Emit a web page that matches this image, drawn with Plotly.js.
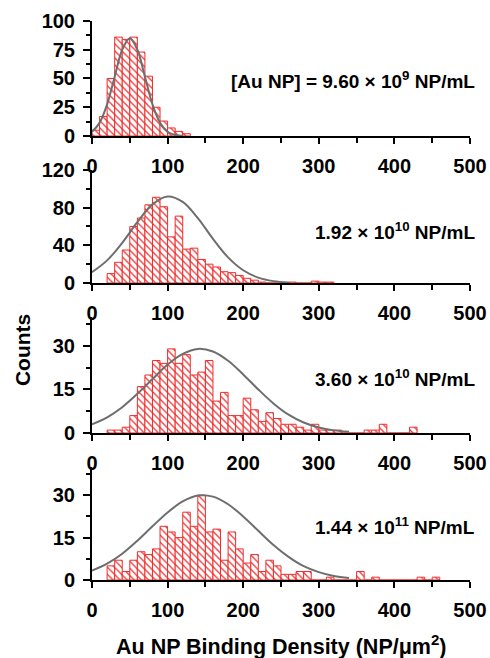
<!DOCTYPE html>
<html><head><meta charset="utf-8">
<script src="https://cdn.plot.ly/plotly-3.0.1.min.js"></script>
<style>html,body{margin:0;padding:0;background:#fff}#chart{width:490px;height:658px}</style>
</head><body><div id="chart"></div>
<script>
// ---------- data ----------
const binWidth = 10;

const binStart1 = 0;
const counts1 = [5, 17, 50, 86, 84, 86, 73, 52, 25, 13, 7, 4, 2];

const binStart2 = 20;
const counts2 = [10, 22, 35, 60, 69, 83, 91, 81, 49, 71, 36, 37, 25, 20, 17, 12, 11, 8, 5, 3, 1, 0, 0, 0, 1, 0, 0, 2, 1, 1];

const binStart3 = 20;
const counts3 = [1, 1, 2, 6, 16, 20, 25, 24, 29, 24, 27, 20, 21, 25, 11, 14, 6, 6, 12, 8, 4, 7, 5, 3, 3, 2, 1, 3, 1, 1, 1, 0, 0, 0, 1, 1, 3, 0, 0, 0, 2];

const binStart4 = 20;
const counts4 = [5, 7, 3, 7, 10, 9, 11, 19, 17, 15, 24, 19, 30, 17, 18, 7, 17, 11, 6, 9, 3, 7, 5, 2, 2, 3, 3, 0, 0, 1, 0, 0, 0, 3, 0, 1, 0, 0, 0, 0, 0, 1, 0, 1];

// Gaussian fit curves
const fitX1 = [0, 10, 20, 30, 40, 50, 60, 70, 80, 90, 100, 110, 120];
const fitY1 = [3.7, 11.4, 27.5, 51.5, 75, 85, 75, 51.5, 27.5, 11.4, 3.7, 0.9, 0.2];

const fitX2 = [0, 20, 40, 60, 80, 100, 120, 140, 160, 180, 200, 220, 240, 260];
const fitY2 = [11.5, 24, 42.7, 64.6, 83.5, 91.9, 86.2, 68.9, 46.9, 27.2, 13.5, 5.7, 2.0, 0.6];

const fitX3 = [0, 20, 40, 60, 80, 100, 120, 140, 160, 180, 200, 220, 240, 260, 280, 300, 320, 340];
const fitY3 = [3.0, 5.4, 8.9, 13.5, 18.6, 23.6, 27.3, 29.0, 28.1, 24.9, 20.2, 15.0, 10.2, 6.3, 3.6, 1.9, 0.9, 0.4];

const fitX4 = [0, 20, 40, 60, 80, 100, 120, 140, 160, 180, 200, 220, 240, 260, 280, 300, 320, 340];
const fitY4 = [3.3, 5.8, 9.3, 13.9, 19.0, 23.9, 27.8, 29.9, 29.5, 26.8, 22.5, 17.4, 12.4, 8.2, 4.9, 2.8, 1.4, 0.7];

// ticks
const xTicks = [0, 100, 200, 300, 400, 500];
const xMinor = [50, 150, 250, 350, 450];
const yTicks1 = [0, 25, 50, 75, 100];
const yMinor1 = [12.5, 37.5, 62.5, 87.5];
const yTicks2 = [0, 40, 80, 120];
const yMinor2 = [20, 60, 100];
const yTicks3 = [0, 15, 30];
const yMinor3 = [7.5, 22.5, 37.5];
const yTicks4 = [0, 15, 30];
const yMinor4 = [7.5, 22.5, 37.5];

const concLabels = [
  '[Au NP] = 9.60 × 10<sup>9</sup> NP/mL',
  '1.92 × 10<sup>10</sup> NP/mL',
  '3.60 × 10<sup>10</sup> NP/mL',
  '1.44 × 10<sup>11</sup> NP/mL'
];
const yTitle = 'Counts';
const xTitle = 'Au NP Binding Density (NP/μm<sup>2</sup>)';

// ---------- build ----------
const RED = 'rgb(240,45,45)';
const GREY = 'rgb(110,110,110)';
const FONT = 'Liberation Sans, Arial, sans-serif';

const panels = [
  {start: binStart1, counts: counts1, fx: fitX1, fy: fitY1, yt: yTicks1, ym: yMinor1, yr: [0, 100], dom: [0.7943, 1.0], ly: 0.8945},
  {start: binStart2, counts: counts2, fx: fitX2, fy: fitY2, yt: yTicks2, ym: yMinor2, yr: [0, 120], dom: [0.5313, 0.7335], ly: 0.6243},
  {start: binStart3, counts: counts3, fx: fitX3, fy: fitY3, yt: yTicks3, ym: yMinor3, yr: [0, 40], dom: [0.2630, 0.4705], ly: 0.3614},
  {start: binStart4, counts: counts4, fx: fitX4, fy: fitY4, yt: yTicks4, ym: yMinor4, yr: [0, 40], dom: [0.0, 0.2022], ly: 0.0966}
];

const traces = [];
const layout = {
  width: 490, height: 658,
  margin: {l: 92, r: 20, t: 21, b: 78},
  paper_bgcolor: 'white', plot_bgcolor: 'white',
  showlegend: false,
  bargap: 0,
  font: {family: FONT, color: 'black'},
  annotations: []
};

const tickFont = {family: FONT, size: 20, weight: 'bold', color: 'black'};

panels.forEach((p, i) => {
  const k = i + 1;
  const xa = k === 1 ? 'x' : 'x' + k;
  const ya = k === 1 ? 'y' : 'y' + k;
  const centers = p.counts.map((c, j) => p.start + j * binWidth + binWidth / 2);
  traces.push({
    type: 'bar', x: centers, y: p.counts, width: binWidth,
    xaxis: xa, yaxis: ya,
    marker: {
      color: 'white',
      line: {color: RED, width: 1},
      pattern: {shape: '\\', fgcolor: RED, bgcolor: 'white', size: 5, solidity: 0.25, fillmode: 'replace'}
    },
    hoverinfo: 'skip'
  });
  traces.push({
    type: 'scatter', mode: 'lines', x: p.fx, y: p.fy,
    xaxis: xa, yaxis: ya,
    line: {color: GREY, width: 2, shape: 'spline', smoothing: 1},
    hoverinfo: 'skip'
  });
  const xKey = k === 1 ? 'xaxis' : 'xaxis' + k;
  const yKey = k === 1 ? 'yaxis' : 'yaxis' + k;
  layout[xKey] = {
    domain: [0, 1], anchor: ya, range: [0, 500],
    tickmode: 'array', tickvals: xTicks, ticktext: xTicks.map(String),
    ticks: 'outside', ticklen: 6, tickwidth: 2, tickcolor: 'black',
    minor: {tickmode: 'array', tickvals: xMinor, ticks: 'outside', ticklen: 5, tickwidth: 2, tickcolor: 'black'},
    showline: true, linecolor: 'black', linewidth: 2,
    showgrid: false, zeroline: false,
    tickfont: tickFont, ticklabelstandoff: 5
  };
  layout[yKey] = {
    domain: p.dom, anchor: xa, range: p.yr,
    tickmode: 'array', tickvals: p.yt, ticktext: p.yt.map(String),
    ticks: 'outside', ticklen: 7, tickwidth: 2, tickcolor: 'black',
    minor: {tickmode: 'array', tickvals: p.ym, ticks: 'outside', ticklen: 4, tickwidth: 2, tickcolor: 'black'},
    showline: true, linecolor: 'black', linewidth: 2,
    showgrid: false, zeroline: false,
    tickfont: tickFont, ticklabelstandoff: 4
  };
  layout.annotations.push({
    xref: 'paper', yref: 'paper', x: 1.0185, y: p.ly,
    xanchor: 'right', yanchor: 'middle', showarrow: false,
    text: '<b>' + concLabels[i] + '</b>',
    font: {family: FONT, size: 19, color: 'black'}
  });
});

layout.annotations.push({
  xref: 'paper', yref: 'paper', x: -0.185, y: 0.4114,
  xanchor: 'center', yanchor: 'middle', showarrow: false, textangle: -90,
  text: '<b>' + yTitle + '</b>',
  font: {family: FONT, size: 21, color: 'black'}
});
layout.annotations.push({
  xref: 'paper', yref: 'paper', x: 0.5, y: -0.1163,
  xanchor: 'center', yanchor: 'middle', showarrow: false,
  text: '<b>' + xTitle + '</b>',
  font: {family: FONT, size: 21.5, color: 'black'}
});

Plotly.newPlot('chart', traces, layout, {displayModeBar: false, staticPlot: true});
</script>
</body></html>
